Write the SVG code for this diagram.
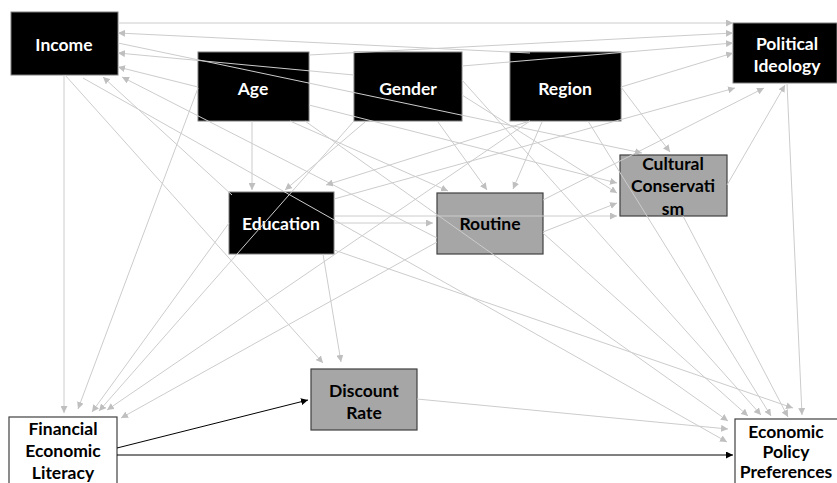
<svg xmlns="http://www.w3.org/2000/svg" width="837" height="483" viewBox="0 0 837 483">
<style>
.blk{fill:#000;stroke:#7f7f7f;stroke-width:1}
.gry{fill:#a6a6a6;stroke:#404040;stroke-width:1.2}
.wht{fill:#fff;stroke:#404040;stroke-width:1.2}
text{font-family:Lato,"Open Sans","Liberation Sans",sans-serif;font-weight:bold;font-size:17.5px;text-anchor:middle;dominant-baseline:central}
.tw{fill:#fff}
.tb{fill:#000}
.c{stroke:#cccccc;stroke-width:1;fill:none;marker-end:url(#ag)}
.k{stroke:#000;stroke-width:1;fill:none;marker-end:url(#ak)}
</style>
<defs>
<marker id="ag" viewBox="0 0 10 10" refX="10" refY="5" markerWidth="7" markerHeight="7" markerUnits="userSpaceOnUse" orient="auto"><path d="M0,0 L10,5 L0,10 z" fill="#bfbfbf"/></marker>
<marker id="ak" viewBox="0 0 10 10" refX="10" refY="5" markerWidth="7" markerHeight="7" markerUnits="userSpaceOnUse" orient="auto"><path d="M0,0 L10,5 L0,10 z" fill="#000"/></marker>
</defs>
<g id="income"><rect class="blk" x="11" y="12" width="107" height="63"/><text class="tw" x="64" y="44">Income</text></g>
<g id="age"><rect class="blk" x="198" y="52" width="111" height="69"/><text class="tw" x="253" y="88">Age</text></g>
<g id="gender"><rect class="blk" x="354" y="52" width="108" height="69"/><text class="tw" x="408" y="88">Gender</text></g>
<g id="region"><rect class="blk" x="510" y="52" width="111" height="69"/><text class="tw" x="565" y="88">Region</text></g>
<g id="political-ideology"><rect class="blk" x="733" y="23" width="104" height="60"/><text class="tw" x="787" y="43">Political</text><text class="tw" x="787" y="65">Ideology</text></g>
<g id="education"><rect class="blk" x="229" y="192" width="105" height="62"/><text class="tw" x="281" y="223">Education</text></g>
<g id="routine"><rect class="gry" x="437" y="193" width="106" height="61"/><text class="tb" x="490" y="223">Routine</text></g>
<g id="cultural-conservatism"><rect class="gry" x="620" y="155" width="107" height="61"/><text class="tb" x="673" y="163">Cultural</text><text class="tb" x="673" y="185">Conservati</text><text class="tb" x="673" y="208">sm</text></g>
<g id="discount-rate"><rect class="gry" x="311" y="369" width="106" height="61"/><text class="tb" x="364" y="390">Discount</text><text class="tb" x="364" y="412">Rate</text></g>
<g id="financial-economic-literacy"><rect class="wht" x="9" y="417" width="108" height="70"/><text class="tb" x="63" y="428">Financial</text><text class="tb" x="63" y="450">Economic</text><text class="tb" x="63" y="472">Literacy</text></g>
<g id="economic-policy-preferences"><rect class="wht" x="735" y="419" width="106" height="70"/><text class="tb" x="786" y="431">Economic</text><text class="tb" x="786" y="451">Policy</text><text class="tb" x="786" y="471">Preferences</text></g>
<g id="connectors">
<line class="c" x1="118" y1="23" x2="733" y2="23"/>
<line class="c" x1="530" y1="53" x2="118" y2="33"/>
<line class="c" x1="309" y1="55" x2="733" y2="33"/>
<line class="c" x1="462" y1="66" x2="733" y2="43"/>
<line class="c" x1="621" y1="87" x2="733" y2="53"/>
<line class="c" x1="334" y1="199" x2="735" y2="88"/>
<line class="c" x1="543" y1="200" x2="764" y2="88"/>
<line class="c" x1="727" y1="185" x2="785" y2="85"/>
<line class="c" x1="354" y1="75" x2="118" y2="53"/>
<line class="c" x1="118" y1="43" x2="642" y2="153"/>
<line class="c" x1="198" y1="87" x2="118" y2="67"/>
<line class="c" x1="232" y1="195" x2="103" y2="77"/>
<line class="c" x1="437" y1="238" x2="122" y2="77"/>
<line class="c" x1="64" y1="75" x2="64" y2="413"/>
<line class="c" x1="65" y1="75" x2="323" y2="363"/>
<line class="c" x1="83" y1="78" x2="727" y2="442"/>
<line class="c" x1="252" y1="121" x2="252" y2="190"/>
<line class="c" x1="365" y1="122" x2="285" y2="190"/>
<line class="c" x1="530" y1="121" x2="326" y2="185"/>
<line class="c" x1="290" y1="121" x2="448" y2="191"/>
<line class="c" x1="438" y1="122" x2="487" y2="190"/>
<line class="c" x1="542" y1="122" x2="513" y2="189"/>
<line class="c" x1="334" y1="223" x2="433" y2="223"/>
<line class="c" x1="621" y1="87" x2="670" y2="152"/>
<line class="c" x1="309" y1="105" x2="617" y2="183"/>
<line class="c" x1="462" y1="95" x2="617" y2="193"/>
<line class="c" x1="334" y1="216" x2="617" y2="216"/>
<line class="c" x1="543" y1="232" x2="617" y2="203"/>
<line class="c" x1="198" y1="88" x2="78" y2="409"/>
<line class="c" x1="354" y1="121" x2="99" y2="411"/>
<line class="c" x1="530" y1="121" x2="107" y2="410"/>
<line class="c" x1="229" y1="223" x2="92" y2="412"/>
<line class="c" x1="437" y1="242" x2="121" y2="418"/>
<line class="c" x1="323" y1="254" x2="341" y2="362"/>
<line class="c" x1="417" y1="399" x2="728" y2="429"/>
<line class="c" x1="787" y1="83" x2="802" y2="415"/>
<line class="c" x1="683" y1="216" x2="788" y2="417"/>
<line class="c" x1="588" y1="121" x2="771" y2="416"/>
<line class="c" x1="462" y1="80" x2="761" y2="415"/>
<line class="c" x1="543" y1="233" x2="748" y2="416"/>
<line class="c" x1="305" y1="121" x2="728" y2="421"/>
<line class="c" x1="334" y1="250" x2="793" y2="408"/>
<line class="k" x1="117" y1="448" x2="308" y2="400"/>
<line class="k" x1="117" y1="455" x2="733" y2="455"/>
</g>
</svg>
